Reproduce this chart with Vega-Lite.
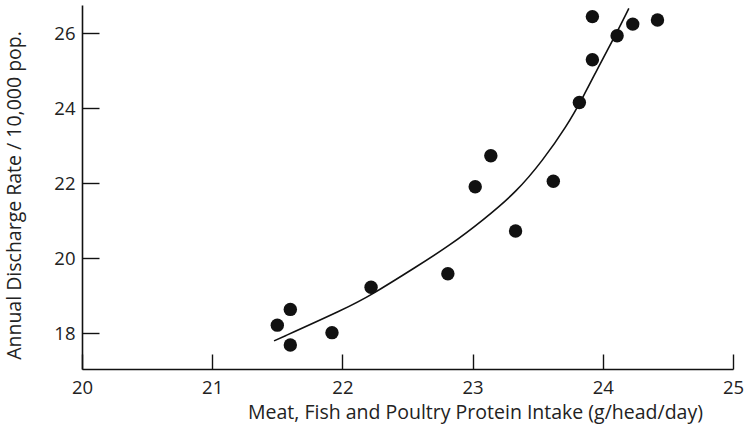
{
  "$schema": "https://vega.github.io/schema/vega-lite/v6.json",
  "width": 651,
  "height": 364,
  "autosize": {"type": "none"},
  "padding": {"left": 82, "top": 5, "right": 13, "bottom": 65},
  "background": "white",
  "config": {
    "view": {"stroke": null},
    "axis": {
      "grid": false,
      "domainColor": "#111",
      "domainWidth": 1.6,
      "tickColor": "#111",
      "tickWidth": 1.4,
      "labelFont": "Open Sans",
      "titleFont": "Open Sans",
      "labelColor": "#222",
      "titleColor": "#222",
      "labelFontSize": 18.5,
      "titleFontSize": 19.5,
      "titleFontWeight": "normal"
    }
  },
  "datasets": {
    "points": [
      {"intake": 21.50, "rate": 18.21},
      {"intake": 21.60, "rate": 18.63},
      {"intake": 21.60, "rate": 17.68},
      {"intake": 21.92, "rate": 18.01},
      {"intake": 22.22, "rate": 19.22},
      {"intake": 22.81, "rate": 19.58},
      {"intake": 23.02, "rate": 21.90},
      {"intake": 23.14, "rate": 22.73},
      {"intake": 23.33, "rate": 20.72},
      {"intake": 23.62, "rate": 22.05},
      {"intake": 23.82, "rate": 24.15},
      {"intake": 23.92, "rate": 25.29},
      {"intake": 23.92, "rate": 26.44},
      {"intake": 24.11, "rate": 25.93},
      {"intake": 24.23, "rate": 26.24},
      {"intake": 24.42, "rate": 26.35}
    ],
    "curve": [
      {"intake": 21.475, "rate": 17.79},
      {"intake": 22.03, "rate": 18.66},
      {"intake": 22.22, "rate": 19.01},
      {"intake": 22.57, "rate": 19.77},
      {"intake": 22.83, "rate": 20.35},
      {"intake": 23.08, "rate": 21.01},
      {"intake": 23.34, "rate": 21.77},
      {"intake": 23.54, "rate": 22.61},
      {"intake": 23.72, "rate": 23.50},
      {"intake": 23.85, "rate": 24.30},
      {"intake": 23.98, "rate": 25.19},
      {"intake": 24.11, "rate": 26.03},
      {"intake": 24.20, "rate": 26.66}
    ]
  },
  "encoding": {
    "x": {
      "field": "intake",
      "type": "quantitative",
      "scale": {"domain": [20, 25], "nice": false, "zero": false},
      "axis": {
        "title": "Meat, Fish and Poultry Protein Intake (g/head/day)",
        "values": [20, 21, 22, 23, 24, 25],
        "format": "d",
        "tickSize": -15,
        "labelPadding": 24,
        "labelFlush": false,
        "titleX": 393,
        "titleY": 49,
        "titleAnchor": "middle",
        "titleBaseline": "alphabetic"
      }
    },
    "y": {
      "field": "rate",
      "type": "quantitative",
      "scale": {"domain": [17.04, 26.75], "nice": false, "zero": false},
      "axis": {
        "title": "Annual Discharge Rate / 10,000 pop.",
        "values": [18, 20, 22, 24, 26],
        "format": "d",
        "tickSize": -17,
        "labelPadding": 24,
        "labelFlush": false,
        "titleX": -58,
        "titleY": 190,
        "titleAnchor": "middle"
      }
    }
  },
  "layer": [
    {
      "data": {"name": "curve"},
      "mark": {"type": "line", "interpolate": "basis", "color": "#111", "strokeWidth": 1.6}
    },
    {
      "data": {"name": "points"},
      "mark": {"type": "circle", "size": 180, "color": "#111", "opacity": 1}
    }
  ]
}
